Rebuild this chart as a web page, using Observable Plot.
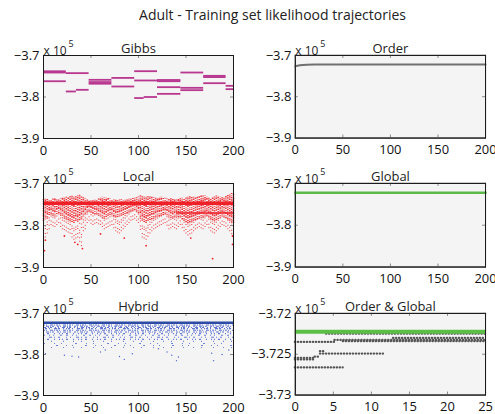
<!DOCTYPE html>
<html><head><meta charset="utf-8">
<script src="https://cdn.jsdelivr.net/npm/d3@7"></script>
<script src="https://cdn.jsdelivr.net/npm/@observablehq/plot@0.6"></script>
<style>
body{margin:0;background:#fff;font-family:"Open Sans",sans-serif;}
#root{position:relative;width:495px;height:414px;overflow:hidden;background:#fff}
#title{position:absolute;left:0;top:5px;width:495px;text-align:center;font-size:14px;color:#222;padding-left:50px;box-sizing:border-box}
.panel{position:absolute}
.panel svg{overflow:visible}
.panel g[aria-label="frame"]:first-of-type{filter:drop-shadow(2px 2px 1.5px rgba(0,0,0,0.45))}
</style>
</head><body>
<div id="root"><div id="title">Adult - Training set likelihood trajectories</div></div>
<script>
// ---------- data (likelihood in units of 10^5) ----------
const bigTicksX = [0, 50, 100, 150, 200];
const bigTicksY = [-3.9, -3.8, -3.7];
const ogTicksX = [0, 5, 10, 15, 20, 25];
const ogTicksY = [-3.73, -3.725, -3.72];

// Gibbs: piecewise-constant chains [x1, x2, y]
const gibbsSegs = [
  [0, 24, -3.738], [0, 24, -3.741], [0, 24, -3.762],
  [24, 48, -3.7425], [24, 34.6, -3.7867], [34.6, 48, -3.7827],
  [48, 72, -3.7586], [48, 72, -3.764], [48, 72, -3.768],
  [72, 96, -3.754], [72, 96, -3.7747],
  [96, 120, -3.7378], [96, 120, -3.7602], [96, 106, -3.8025], [106, 120, -3.8],
  [120, 144.6, -3.759], [120, 144.6, -3.762], [120, 144.6, -3.7763], [120, 144.6, -3.7924],
  [144.6, 168.6, -3.741], [144.6, 168.6, -3.7779], [144.6, 168.6, -3.7835],
  [168.6, 192.2, -3.749], [168.6, 192.2, -3.752], [168.6, 192.2, -3.7667],
  [192.2, 200, -3.7731], [192.2, 200, -3.7811]
];

// Order: single trajectory
const orderX = [0, 2, 5, 8, 12, 20, 50, 100, 150, 200];
const orderY = [-3.7265, -3.725, -3.7238, -3.723, -3.7225, -3.7222, -3.722, -3.7219, -3.7218, -3.7218];

// Local: extent of the sample cloud per iteration column
const localXa = [0,4,8,12,16,20,24,28,32,36,40,44,48,52,56,60,64,68,72,76,80,84,88,92,96,100,104,108,112,116,120,124,128,132,136,140,144,148,152,156,160,164,168,172,176,180,184,188,192,196,200];
const localTopA = [-3.738,-3.737,-3.739,-3.736,-3.738,-3.735,-3.733,-3.731,-3.729,-3.728,-3.732,-3.736,-3.74,-3.741,-3.739,-3.735,-3.734,-3.736,-3.738,-3.74,-3.739,-3.741,-3.738,-3.737,-3.735,-3.732,-3.731,-3.733,-3.731,-3.734,-3.736,-3.733,-3.735,-3.738,-3.737,-3.739,-3.736,-3.738,-3.733,-3.732,-3.734,-3.731,-3.73,-3.733,-3.735,-3.732,-3.731,-3.734,-3.73,-3.727,-3.726];
const localDenseA = [-3.79,-3.785,-3.775,-3.78,-3.772,-3.778,-3.785,-3.79,-3.795,-3.792,-3.785,-3.775,-3.768,-3.772,-3.775,-3.78,-3.785,-3.778,-3.775,-3.782,-3.78,-3.776,-3.772,-3.768,-3.765,-3.772,-3.79,-3.795,-3.788,-3.785,-3.78,-3.778,-3.775,-3.78,-3.785,-3.78,-3.782,-3.79,-3.795,-3.792,-3.788,-3.785,-3.782,-3.778,-3.785,-3.79,-3.786,-3.78,-3.784,-3.79,-3.795];
const localDeepA = [-3.84,-3.82,-3.8,-3.805,-3.795,-3.81,-3.815,-3.82,-3.835,-3.83,-3.85,-3.81,-3.79,-3.8,-3.795,-3.8,-3.81,-3.805,-3.8,-3.815,-3.82,-3.81,-3.8,-3.79,-3.785,-3.795,-3.83,-3.835,-3.82,-3.81,-3.805,-3.8,-3.795,-3.81,-3.805,-3.81,-3.8,-3.815,-3.825,-3.82,-3.81,-3.805,-3.81,-3.8,-3.815,-3.82,-3.81,-3.8,-3.805,-3.815,-3.83];
const localXb = [2,6,10,14,18,22,26,30,34,38,42,46,50,54,58,62,66,70,74,78,82,86,90,94,98,102,106,110,114,118,122,126,130,134,138,142,146,150,154,158,162,166,170,174,178,182,186,190,194,198];
const localTopB = [-3.737,-3.738,-3.737,-3.739,-3.736,-3.734,-3.732,-3.728,-3.73,-3.727,-3.734,-3.738,-3.741,-3.74,-3.737,-3.733,-3.735,-3.737,-3.739,-3.741,-3.738,-3.74,-3.737,-3.736,-3.733,-3.729,-3.732,-3.73,-3.732,-3.735,-3.734,-3.736,-3.737,-3.736,-3.738,-3.737,-3.735,-3.734,-3.731,-3.733,-3.732,-3.73,-3.729,-3.734,-3.733,-3.73,-3.733,-3.732,-3.728,-3.724];
const localDenseB = [-3.782,-3.776,-3.778,-3.774,-3.775,-3.782,-3.788,-3.793,-3.79,-3.788,-3.78,-3.77,-3.77,-3.774,-3.778,-3.783,-3.781,-3.776,-3.779,-3.781,-3.778,-3.774,-3.77,-3.766,-3.768,-3.782,-3.793,-3.79,-3.786,-3.782,-3.779,-3.776,-3.777,-3.783,-3.782,-3.781,-3.786,-3.793,-3.793,-3.79,-3.786,-3.783,-3.78,-3.782,-3.788,-3.788,-3.783,-3.782,-3.787,-3.792];
const localDeepB = [-3.83,-3.81,-3.803,-3.8,-3.805,-3.812,-3.818,-3.83,-3.832,-3.84,-3.815,-3.795,-3.797,-3.797,-3.798,-3.805,-3.807,-3.802,-3.808,-3.818,-3.815,-3.805,-3.795,-3.788,-3.79,-3.812,-3.832,-3.828,-3.815,-3.808,-3.802,-3.797,-3.802,-3.808,-3.808,-3.805,-3.808,-3.82,-3.822,-3.815,-3.808,-3.808,-3.805,-3.808,-3.818,-3.815,-3.805,-3.802,-3.81,-3.822];
const localBand = -3.747;
const localBand2 = [[140, 200, -3.770]];
const localPts = [[1,-3.86],[2,-3.835],[22,-3.825],[33,-3.84],[36,-3.845],[41,-3.855],[60,-3.82],[85,-3.83],[108,-3.848],[155,-3.83],[178,-3.879],[199,-3.845],[199,-3.825]];

// Global
const globalX = [0, 200];
const globalY = [-3.7222, -3.7222];

// Hybrid
const hybridBest = -3.7228;
const hybridRowsDense = [-3.728, -3.731, -3.734, -3.737, -3.741, -3.745];
const hybridRowsMid = [-3.749, -3.753, -3.758, -3.763];
const hybridRowsSparse = [-3.768, -3.773, -3.778, -3.783];
const hybridPts = [[2,-3.798],[22,-3.802],[30,-3.804],[37,-3.806],[60,-3.794],[65,-3.789],[80,-3.805],[85,-3.812],[93.5,-3.798],[121,-3.786],[130,-3.794],[135,-3.802],[140,-3.815],[142,-3.806],[177,-3.797],[179,-3.815],[188,-3.8],[195,-3.789]];

// Order & Global (zoom): rows of samples [x1, x2, y]
const ogBest = -3.72225;
const ogRows = [
  [4.1, 25, -3.72248],
  [0, 5.2, -3.72350],
  [5.2, 25, -3.72325],
  [6.3, 25, -3.72340],
  [12.9, 25, -3.72300],
  [0, 2.6, -3.72545], [0, 2.6, -3.72565],
  [2.6, 3.3, -3.7253],
  [3.3, 3.8, -3.72463],
  [3.3, 11.6, -3.72492],
  [0, 6.3, -3.72662]
];

// ---------- drawing ----------
const root = document.getElementById("root");
function panel({left, top, w, h, xDomain, yDomain, xTicks, yTicks, yFormat, title, marks}) {
  const ml = 50, mr = 10, mt = 28, mb = 22;
  const chart = Plot.plot({
    width: w + ml + mr, height: h + mt + mb,
    marginLeft: ml, marginRight: mr, marginTop: mt, marginBottom: mb,
    style: {fontFamily: "Open Sans", fontSize: "13px", color: "#111", background: "transparent", overflow: "visible"},
    x: {domain: xDomain, ticks: xTicks, tickSize: 0, tickPadding: 7, label: null},
    y: {domain: yDomain, ticks: yTicks, tickSize: 0, tickPadding: 4, label: null, tickFormat: d3.format(yFormat)},
    marks: [
      Plot.frame({fill: "#f4f4f4", stroke: "#1a1a1a"}),
      ...marks,
      Plot.tickX(xTicks, {x: d => d, insetBottom: h - 3, stroke: "#888"}),
      Plot.tickX(xTicks, {x: d => d, insetTop: h - 3, stroke: "#888"}),
      Plot.tickY(yTicks, {y: d => d, insetRight: w - 3, stroke: "#888"}),
      Plot.tickY(yTicks, {y: d => d, insetLeft: w - 3, stroke: "#888"}),
      Plot.frame({stroke: "#1a1a1a"}),
      Plot.text([title], {frameAnchor: "top", dy: -12, text: d => d, fontSize: 13, fill: "#222"}),
      Plot.text(["x 10"], {frameAnchor: "top-left", dy: -9, textAnchor: "start", text: d => d, fontSize: 12, fill: "#222"}),
      Plot.text(["5"], {frameAnchor: "top-left", dy: -15, dx: 25, textAnchor: "start", text: d => d, fontSize: 9, fill: "#222"})
    ]
  });
  const div = document.createElement("div");
  div.className = "panel";
  div.style.left = (left - ml) + "px";
  div.style.top = (top - mt) + "px";
  div.appendChild(chart);
  root.appendChild(div);
}

const LX = 43, RX = 295, W = 190;
const rows = [{top: 55, h: 83}, {top: 183, h: 84}, {top: 313, h: 82}];
const big = {w: W, xDomain: [0, 200], yDomain: [-3.9, -3.7], xTicks: bigTicksX, yTicks: bigTicksY, yFormat: ".1f"};

panel({...big, left: LX, top: rows[0].top, h: rows[0].h, title: "Gibbs", marks: [
  Plot.ruleY(gibbsSegs, {x1: d => d[0], x2: d => d[1], y: d => d[2], stroke: "#b8378f", strokeWidth: 1.8})
]});

panel({...big, left: RX, w: 191, top: rows[0].top, h: rows[0].h, title: "Order", marks: [
  Plot.line(orderX.map((x, i) => ({x, y: orderY[i]})), {x: "x", y: "y", stroke: "#707070", strokeWidth: 2})
]});

const localCols = [
  ...localXa.map((x, i) => ({x, top: localTopA[i], dense: localDenseA[i], deep: localDeepA[i]})),
  ...localXb.map((x, i) => ({x, top: localTopB[i], dense: localDenseB[i], deep: localDeepB[i]}))
];
const RED = "#ee1f27";
panel({...big, left: LX, top: rows[1].top, h: rows[1].h, title: "Local", marks: [
  Plot.ruleX(localCols, {x: "x", y1: "dense", y2: "top", stroke: RED, strokeWidth: 1.6, strokeDasharray: "1.2,0.8,0.8,1.5,2,0.7,1,1.2,1.5,1", strokeOpacity: 0.9}),
  Plot.ruleX(localCols, {x: "x", y1: "deep", y2: "dense", stroke: RED, strokeWidth: 1.2, strokeDasharray: "1,2.5,1,4,1,1.5,1,6", strokeOpacity: 0.75}),
  Plot.ruleY([localBand], {y: d => d, stroke: RED, strokeWidth: 3.5}),
  Plot.ruleY(localBand2, {x1: d => d[0], x2: d => d[1], y: d => d[2], stroke: RED, strokeWidth: 1.5}),
  Plot.dot(localPts, {x: d => d[0], y: d => d[1], r: 0.9, fill: RED, stroke: null})
]});

panel({...big, left: RX, w: 191, top: rows[1].top, h: rows[1].h, title: "Global", marks: [
  Plot.line(globalX.map((x, i) => ({x, y: globalY[i]})), {x: "x", y: "y", stroke: "#5bb947", strokeWidth: 2.5})
]});

const BLUE_DOT = "#5068cc";
const densePat = ["2,1,1,3,3,1,1,1", "1,2,3,1,1,1,2,3,2,1", "3,2,1,1,2,3,1,2,1,3", "1,1,2,2,1,4,3,1,2,3,1,2"];
const midPat = ["1,3,2,5,1,4,1,2", "2,4,1,3,1,6,2,4", "1,5,3,2,1,3,2,6,1,3"];
const sparsePat = ["1,7,1,11,1,9", "2,9,1,6,1,13", "1,12,2,8,1,5"];
const rowMarks = (ys, pats, op) => ys.map((y, i) => Plot.ruleY([y], {y: d => d, stroke: BLUE_DOT, strokeWidth: 1.1, strokeOpacity: op, strokeDasharray: pats[i % pats.length]}));
panel({...big, left: LX, top: rows[2].top, h: rows[2].h, title: "Hybrid", marks: [
  ...rowMarks(hybridRowsDense, densePat, 0.9),
  ...rowMarks(hybridRowsMid, midPat, 0.85),
  ...rowMarks(hybridRowsSparse, sparsePat, 0.8),
  Plot.dot(hybridPts, {x: d => d[0], y: d => d[1], r: 0.7, fill: BLUE_DOT, stroke: null}),
  Plot.ruleY([hybridBest], {y: d => d, stroke: "#2c4ca6", strokeWidth: 2.5})
]});

panel({left: RX, w: 191, top: rows[2].top, h: rows[2].h, xDomain: [0, 25], yDomain: [-3.73, -3.72], xTicks: ogTicksX, yTicks: ogTicksY, yFormat: ".3~f", title: "Order & Global", marks: [
  Plot.ruleY(ogRows, {x1: d => d[0], x2: d => d[1], y: d => d[2], stroke: "#555", strokeWidth: 2.2, strokeLinecap: "round", strokeDasharray: "0.4,2.6"}),
  Plot.ruleY([ogBest], {y: d => d, stroke: "#5cbf45", strokeWidth: 4})
]});
</script>
</body></html>
